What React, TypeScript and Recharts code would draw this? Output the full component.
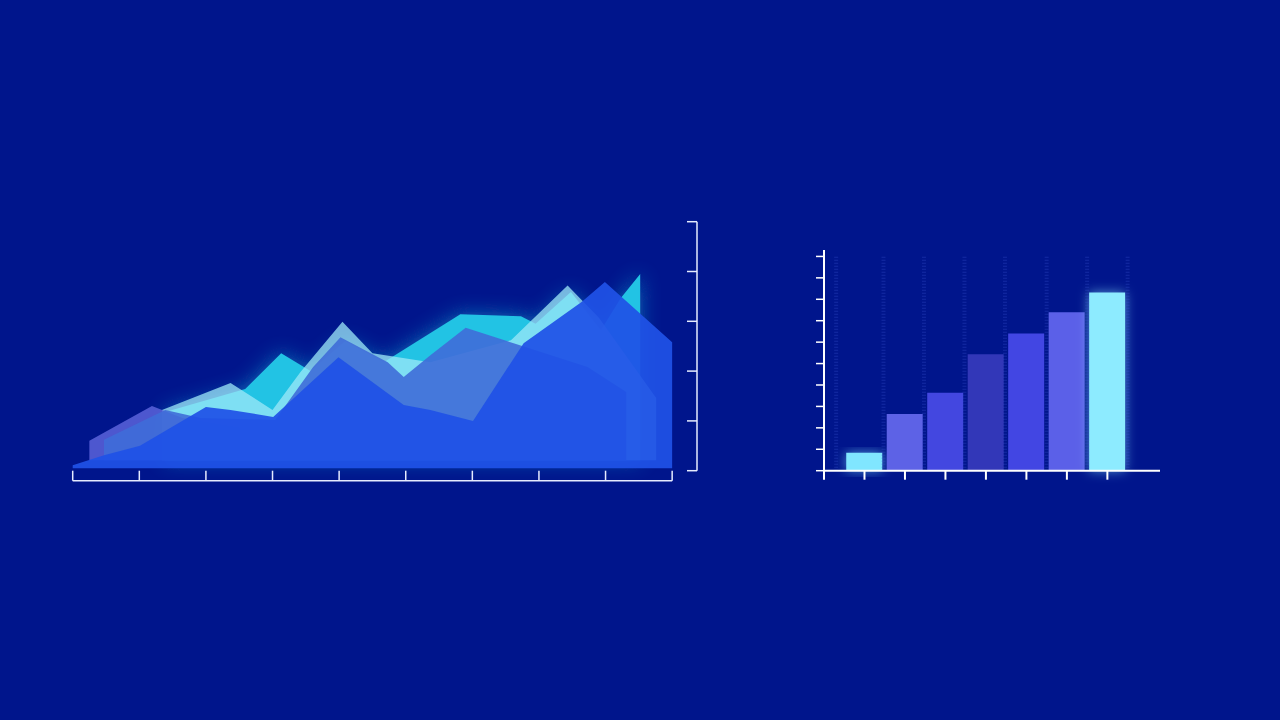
import React from "react";
import {
  ComposedChart,
  Area,
  XAxis,
  YAxis,
  ReferenceLine,
  BarChart,
  Bar,
  Cell,
} from "recharts";

const BG = "#00158C";
const AXIS = "#E6ECFF";

// left chart: layered areas (x 0..9, y 0..5)
const areaTicksX = [0, 1, 2, 3, 4, 5, 6, 7, 8, 9];
const areaTicksY = [0, 1, 2, 3, 4, 5];

const cyanX = [1.39, 2.59, 3.13, 3.57, 4.09, 4.67, 5.82, 6.73, 6.95, 7.48, 7.93, 8.23, 8.52];
const cyanY = [1.18, 1.64, 2.36, 2.0, 2.6, 2.18, 3.14, 3.1, 2.95, 3.59, 2.82, 3.47, 3.95];

const paleX = [1.34, 2.37, 3.0, 3.42, 4.05, 4.5, 5.37, 6.58, 7.43, 7.9, 8.76];
const paleY = [1.22, 1.76, 1.22, 1.98, 2.99, 2.36, 2.18, 2.62, 3.72, 3.07, 1.46];

const slabX = [0.25, 1.19, 1.65, 2.52];
const slabY = [0.6, 1.3, 1.06, 0.86];

const glassX = [0.47, 1.39, 1.92, 3.04, 3.61, 4.02, 4.73, 4.97, 5.37, 5.9, 6.62, 7.73, 8.31];
const glassY = [0.62, 1.22, 1.06, 1.02, 2.08, 2.68, 2.18, 1.88, 2.32, 2.87, 2.56, 2.08, 1.58];

const frontX = [0, 0.47, 1.01, 2.0, 2.37, 3.01, 3.99, 4.97, 5.37, 6.01, 6.77, 7.64, 7.99, 9];
const frontY = [0.11, 0.31, 0.5, 1.28, 1.22, 1.08, 2.28, 1.32, 1.22, 1.0, 2.56, 3.39, 3.79, 2.58];

const backBase = 0.21;
const frontBase = 0.05;

// right chart: bars
const barCats = [1, 2, 3, 4, 5, 6, 7];
const barValues = [0.84, 2.65, 3.64, 5.43, 6.4, 7.4, 8.32];
const barTicksX = [0, 1, 2, 3, 4, 5, 6, 7];
const barTicksY = [0, 1, 2, 3, 4, 5, 6, 7, 8, 9, 10];
const barGridX = [0.3, 1.47, 2.47, 3.47, 4.47, 5.5, 6.5, 7.5];
const barColors = ["#80E6FF", "#5D62E6", "#4347E0", "#3237B8", "#4246E3", "#5B60E8", "#8DEBFF"];

const toPts = (xs: number[], ys: number[], base: number) =>
  xs.map((x, i) => ({ x, v: [base, ys[i]] }));

const barData = barCats.map((x, i) => ({ x, v: barValues[i] }));

// tick marks only, no labels
const NoLabel = () => <g />;

function LayerChart() {
  return (
    <ComposedChart
      width={680}
      height={320}
      margin={{ top: 31.7, left: 32.7, right: 23, bottom: 19.3 }}
    >
      <defs>
        <filter id="glow" x="-30%" y="-60%" width="160%" height="220%">
          <feGaussianBlur in="SourceGraphic" stdDeviation="10" result="b" />
          <feColorMatrix
            in="b"
            type="matrix"
            values="1 0 0 0 0  0 1 0 0 0  0 0 1 0 0  0 0 0 0.5 0"
            result="b2"
          />
          <feMerge>
            <feMergeNode in="b2" />
            <feMergeNode in="SourceGraphic" />
          </feMerge>
        </filter>
      </defs>
      <XAxis
        type="number"
        dataKey="x"
        domain={[0, 9.373]}
        ticks={areaTicksX}
        interval={0}
        tick={NoLabel}
        tickSize={10}
        axisLine={false}
        tickLine={{ stroke: AXIS, strokeWidth: 1.5 }}
        height={20}
      />
      <YAxis
        orientation="right"
        mirror
        width={1}
        domain={[0, 5]}
        ticks={areaTicksY}
        interval={0}
        tick={NoLabel}
        tickSize={10}
        axisLine={{ stroke: AXIS, strokeWidth: 1.5 }}
        tickLine={{ stroke: AXIS, strokeWidth: 1.5 }}
      />
      <Area
        data={toPts(cyanX, cyanY, backBase)}
        dataKey="v"
        type="linear"
        stroke="none"
        fill="#21C3E4"
        fillOpacity={1}
        filter="url(#glow)"
        isAnimationActive={false}
      />
      <Area
        data={toPts(paleX, paleY, backBase)}
        dataKey="v"
        type="linear"
        stroke="none"
        fill="#9DE8F8"
        fillOpacity={0.75}
        isAnimationActive={false}
      />
      <Area
        data={toPts(slabX, slabY, backBase)}
        dataKey="v"
        type="linear"
        stroke="none"
        fill="#5A63DA"
        fillOpacity={0.85}
        isAnimationActive={false}
      />
      <Area
        data={toPts(glassX, glassY, backBase)}
        dataKey="v"
        type="linear"
        stroke="none"
        fill="#3F6DD8"
        fillOpacity={0.9}
        isAnimationActive={false}
      />
      <Area
        data={toPts(frontX, frontY, frontBase)}
        dataKey="v"
        type="linear"
        stroke="none"
        fill="#1F52E6"
        fillOpacity={0.93}
        isAnimationActive={false}
      />
      <ReferenceLine
        segment={[
          { x: 0, y: -0.2 },
          { x: 9, y: -0.2 },
        ]}
        ifOverflow="visible"
        stroke={AXIS}
        strokeWidth={1.5}
      />
    </ComposedChart>
  );
}

function StepBars() {
  return (
    <BarChart
      width={420}
      height={290}
      data={barData}
      margin={{ top: 30, left: 44, right: 20, bottom: 19.3 }}
    >
      <defs>
        <filter id="barGlow" x="-60%" y="-30%" width="220%" height="160%">
          <feGaussianBlur in="SourceGraphic" stdDeviation="6" result="b" />
          <feColorMatrix
            in="b"
            type="matrix"
            values="1 0 0 0 0  0 1 0 0 0  0 0 1 0 0  0 0 0 0.6 0"
            result="b2"
          />
          <feMerge>
            <feMergeNode in="b2" />
            <feMergeNode in="SourceGraphic" />
          </feMerge>
        </filter>
      </defs>
      <XAxis
        type="number"
        dataKey="x"
        domain={[0, 8.3]}
        ticks={barTicksX}
        interval={0}
        tick={NoLabel}
        tickSize={9}
        height={20}
        axisLine={{ stroke: "#FFFFFF", strokeWidth: 2 }}
        tickLine={{ stroke: "#FFFFFF", strokeWidth: 2 }}
      />
      <YAxis
        width={20}
        domain={[0, 10.3]}
        ticks={barTicksY}
        interval={0}
        tick={NoLabel}
        tickSize={8}
        axisLine={{ stroke: "#FFFFFF", strokeWidth: 2 }}
        tickLine={{ stroke: "#FFFFFF", strokeWidth: 1.5 }}
      />
      {barGridX.map((gx) => (
        <ReferenceLine
          key={gx}
          segment={[
            { x: gx, y: 0 },
            { x: gx, y: 10 },
          ]}
          stroke="#3A55D0"
          strokeOpacity={0.35}
          strokeWidth={4}
          strokeDasharray="1 2"
        />
      ))}
      <Bar dataKey="v" barSize={36} isAnimationActive={false}>
        {barData.map((d, i) => (
          <Cell
            key={d.x}
            fill={barColors[i]}
            filter={i === 0 || i === 6 ? "url(#barGlow)" : undefined}
          />
        ))}
      </Bar>
    </BarChart>
  );
}

export default function App() {
  return (
    <div
      style={{
        position: "absolute",
        left: 0,
        top: 0,
        width: 1280,
        height: 720,
        background: BG,
        overflow: "hidden",
      }}
    >
      <div style={{ position: "absolute", left: 40, top: 190 }}>
        <LayerChart />
      </div>
      <div style={{ position: "absolute", left: 760, top: 220 }}>
        <StepBars />
      </div>
    </div>
  );
}
